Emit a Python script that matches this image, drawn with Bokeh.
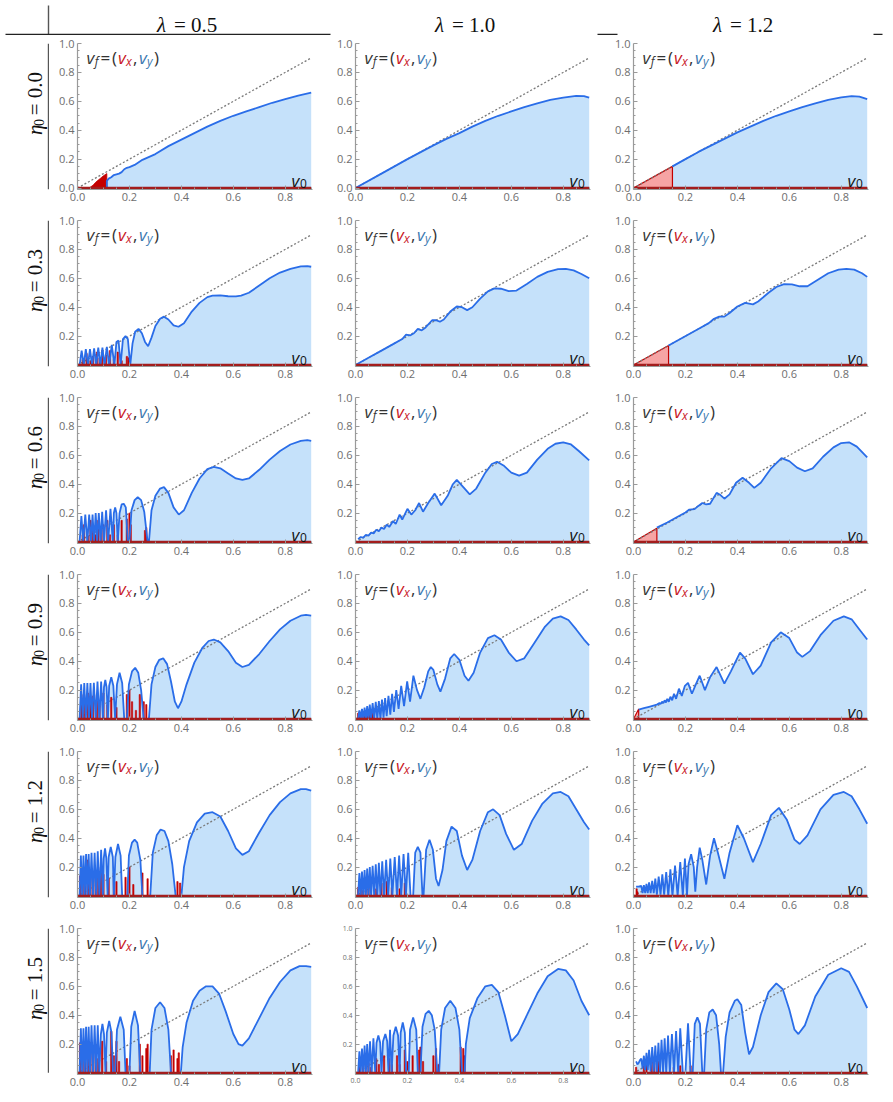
import math
from bokeh.plotting import figure
from bokeh.layouts import row, column
from bokeh.models import Range1d, FixedTicker, NumeralTickFormatter
from bokeh.core.properties import value
from bokeh.embed import file_html
from bokeh.resources import INLINE

# ---------------- data ----------------
lambda_labels = ["0.5", "1.0", "1.2"]
eta_labels = ["0.0", "0.3", "0.6", "0.9", "1.2", "1.5"]
v0_ticks = [0.0, 0.2, 0.4, 0.6, 0.8]
vf_ticks_first_row = [0.0, 0.2, 0.4, 0.6, 0.8, 1.0]
vf_ticks = [0.2, 0.4, 0.6, 0.8, 1.0]
minor_ticks = [0.05, 0.1, 0.15, 0.25, 0.3, 0.35, 0.45, 0.5, 0.55, 0.65, 0.7, 0.75, 0.85, 0.9, 0.95]
diag_v0 = [0.0, 0.9]
diag_vf = [0.0, 0.9]
base_v0 = [0.0, 0.9]
base_vx = [0.0, 0.0]

# v_y(v0) curves, (v0, v_y)
vy_eta00_lam05 = [(0.113, 0.0), (0.113, 0.05), (0.12, 0.065), (0.13, 0.075), (0.14, 0.09), (0.15, 0.095), (0.16, 0.10),
                  (0.17, 0.11), (0.18, 0.13), (0.19, 0.14), (0.20, 0.145), (0.22, 0.16), (0.25, 0.195), (0.30, 0.235),
                  (0.35, 0.29), (0.40, 0.335), (0.45, 0.38), (0.50, 0.425), (0.55, 0.465), (0.60, 0.50), (0.65, 0.53),
                  (0.70, 0.56), (0.75, 0.59), (0.80, 0.615), (0.85, 0.64), (0.90, 0.66)]
vy_eta00_lam10 = [(0.0, 0.0), (0.1, 0.1), (0.2, 0.2), (0.3, 0.295), (0.35, 0.34), (0.4, 0.38), (0.45, 0.425), (0.5, 0.465),
                  (0.55, 0.5), (0.6, 0.53), (0.65, 0.56), (0.7, 0.585), (0.75, 0.61), (0.8, 0.625), (0.85, 0.637),
                  (0.88, 0.636), (0.9, 0.625)]
vy_eta00_lam12 = [(0.15, 0.15), (0.2, 0.2), (0.25, 0.25), (0.3, 0.295), (0.35, 0.34), (0.4, 0.385), (0.45, 0.425),
                  (0.5, 0.465), (0.55, 0.5), (0.6, 0.53), (0.65, 0.56), (0.7, 0.585), (0.75, 0.61), (0.8, 0.627),
                  (0.84, 0.636), (0.87, 0.632), (0.9, 0.615)]

vy_eta03_lam05 = [(0.008, 0.0), (0.016, 0.10), (0.024, 0.0), (0.032, 0.11), (0.040, 0.0), (0.048, 0.11), (0.056, 0.0),
                  (0.064, 0.115), (0.072, 0.0), (0.080, 0.12), (0.088, 0.0), (0.096, 0.12), (0.104, 0.0), (0.113, 0.125),
                  (0.122, 0.0), (0.132, 0.14), (0.142, 0.0), (0.150, 0.16), (0.158, 0.17), (0.166, 0.0), (0.175, 0.18),
                  (0.185, 0.20), (0.194, 0.18), (0.203, 0.0), (0.212, 0.15), (0.222, 0.23), (0.235, 0.25), (0.248, 0.22),
                  (0.260, 0.16), (0.272, 0.13), (0.285, 0.19), (0.300, 0.27), (0.318, 0.32), (0.333, 0.335),
                  (0.350, 0.315), (0.370, 0.275), (0.389, 0.265), (0.410, 0.29), (0.440, 0.37), (0.470, 0.43),
                  (0.500, 0.47), (0.520, 0.48), (0.550, 0.482), (0.580, 0.476), (0.610, 0.475), (0.630, 0.48),
                  (0.660, 0.50), (0.700, 0.55), (0.740, 0.60), (0.780, 0.64), (0.820, 0.665), (0.860, 0.683),
                  (0.885, 0.685), (0.900, 0.68)]
vy_eta03_lam10 = [(0.0, 0.0), (0.05, 0.05), (0.10, 0.10), (0.15, 0.15), (0.18, 0.18), (0.195, 0.21), (0.21, 0.205),
                  (0.225, 0.22), (0.24, 0.25), (0.255, 0.24), (0.27, 0.26), (0.295, 0.31), (0.31, 0.31), (0.325, 0.30),
                  (0.34, 0.315), (0.365, 0.37), (0.39, 0.405), (0.41, 0.40), (0.43, 0.38), (0.45, 0.40), (0.48, 0.46),
                  (0.51, 0.51), (0.535, 0.53), (0.56, 0.528), (0.59, 0.512), (0.62, 0.515), (0.66, 0.56), (0.70, 0.61),
                  (0.74, 0.645), (0.78, 0.663), (0.81, 0.665), (0.84, 0.655), (0.87, 0.63), (0.90, 0.60)]
vy_eta03_lam12 = [(0.135, 0.135), (0.18, 0.18), (0.22, 0.22), (0.26, 0.26), (0.29, 0.29), (0.31, 0.32), (0.33, 0.335),
                  (0.35, 0.335), (0.37, 0.36), (0.40, 0.405), (0.43, 0.43), (0.445, 0.425), (0.46, 0.42), (0.48, 0.44),
                  (0.52, 0.50), (0.55, 0.54), (0.58, 0.56), (0.61, 0.558), (0.64, 0.545), (0.67, 0.545), (0.71, 0.59),
                  (0.75, 0.635), (0.79, 0.66), (0.82, 0.665), (0.85, 0.66), (0.88, 0.635), (0.90, 0.61)]

vy_eta06_lam05 = [(0.008, 0.0), (0.015, 0.18), (0.022, 0.0), (0.030, 0.19), (0.038, 0.0), (0.045, 0.19), (0.052, 0.0),
                  (0.058, 0.19), (0.064, 0.0), (0.070, 0.20), (0.076, 0.0), (0.082, 0.20), (0.089, 0.0), (0.095, 0.21),
                  (0.102, 0.0), (0.110, 0.22), (0.118, 0.0), (0.127, 0.23), (0.136, 0.0), (0.140, 0.20), (0.145, 0.24),
                  (0.150, 0.20), (0.155, 0.0), (0.162, 0.20), (0.170, 0.26), (0.178, 0.265), (0.186, 0.24), (0.194, 0.0),
                  (0.200, 0.0), (0.208, 0.22), (0.220, 0.29), (0.232, 0.31), (0.245, 0.29), (0.257, 0.21), (0.270, 0.0),
                  (0.275, 0.0), (0.285, 0.22), (0.300, 0.32), (0.318, 0.37), (0.333, 0.38), (0.350, 0.34),
                  (0.370, 0.24), (0.390, 0.19), (0.410, 0.22), (0.440, 0.34), (0.470, 0.44), (0.500, 0.505),
                  (0.525, 0.52), (0.550, 0.51), (0.580, 0.475), (0.610, 0.44), (0.635, 0.43), (0.660, 0.44),
                  (0.700, 0.50), (0.740, 0.57), (0.780, 0.63), (0.820, 0.675), (0.860, 0.70), (0.885, 0.705),
                  (0.900, 0.70)]
vy_eta06_lam10 = [(0.01, 0.02), (0.02, 0.035), (0.03, 0.03), (0.04, 0.05), (0.05, 0.045), (0.06, 0.065), (0.07, 0.06),
                  (0.08, 0.085), (0.09, 0.075), (0.10, 0.10), (0.11, 0.09), (0.12, 0.12), (0.13, 0.105), (0.145, 0.145),
                  (0.155, 0.125), (0.17, 0.19), (0.18, 0.155), (0.20, 0.23), (0.215, 0.19), (0.23, 0.22), (0.245, 0.27),
                  (0.26, 0.21), (0.28, 0.27), (0.305, 0.335), (0.33, 0.255), (0.355, 0.32), (0.375, 0.40), (0.39, 0.43),
                  (0.41, 0.39), (0.44, 0.33), (0.465, 0.37), (0.50, 0.48), (0.525, 0.54), (0.545, 0.555), (0.57, 0.53),
                  (0.60, 0.48), (0.63, 0.46), (0.66, 0.48), (0.70, 0.57), (0.74, 0.645), (0.77, 0.68), (0.80, 0.69),
                  (0.83, 0.675), (0.86, 0.63), (0.90, 0.565)]
vy_eta06_lam12 = [(0.09, 0.10), (0.13, 0.135), (0.17, 0.175), (0.2, 0.205), (0.215, 0.225), (0.235, 0.228), (0.25, 0.25),
                  (0.265, 0.27), (0.28, 0.26), (0.295, 0.265), (0.32, 0.34), (0.335, 0.325), (0.35, 0.30), (0.37, 0.33),
                  (0.395, 0.41), (0.42, 0.445), (0.445, 0.41), (0.465, 0.375), (0.49, 0.41), (0.53, 0.51), (0.57, 0.58),
                  (0.60, 0.56), (0.63, 0.515), (0.66, 0.49), (0.69, 0.51), (0.73, 0.59), (0.77, 0.655), (0.80, 0.685),
                  (0.83, 0.69), (0.86, 0.66), (0.90, 0.585)]

vy_eta09_lam05 = [(0.008, 0.0), (0.014, 0.24), (0.020, 0.0), (0.026, 0.25), (0.032, 0.0), (0.038, 0.25), (0.044, 0.0),
                  (0.050, 0.25), (0.056, 0.0), (0.063, 0.25), (0.070, 0.0), (0.077, 0.26), (0.084, 0.0), (0.091, 0.26),
                  (0.098, 0.0), (0.102, 0.22), (0.107, 0.27), (0.112, 0.22), (0.117, 0.0), (0.122, 0.23), (0.130, 0.29),
                  (0.138, 0.23), (0.145, 0.0), (0.152, 0.24), (0.162, 0.32), (0.172, 0.25), (0.180, 0.0), (0.190, 0.0),
                  (0.198, 0.24), (0.210, 0.33), (0.222, 0.355), (0.234, 0.32), (0.245, 0.20), (0.255, 0.0),
                  (0.275, 0.0), (0.285, 0.24), (0.300, 0.36), (0.315, 0.41), (0.330, 0.42), (0.345, 0.38),
                  (0.360, 0.26), (0.375, 0.12), (0.387, 0.075), (0.400, 0.12), (0.420, 0.24), (0.450, 0.39),
                  (0.480, 0.49), (0.505, 0.54), (0.525, 0.55), (0.550, 0.53), (0.580, 0.47), (0.610, 0.39),
                  (0.635, 0.36), (0.660, 0.375), (0.700, 0.45), (0.740, 0.54), (0.780, 0.62), (0.820, 0.68),
                  (0.860, 0.715), (0.880, 0.72), (0.900, 0.715)]
vy_eta09_lam10 = [(0.01, 0.0), (0.015, 0.06), (0.02, 0.0), (0.025, 0.07), (0.03, 0.0), (0.035, 0.08), (0.04, 0.0),
                  (0.045, 0.09), (0.05, 0.0), (0.055, 0.10), (0.06, 0.0), (0.066, 0.11), (0.072, 0.0), (0.078, 0.12),
                  (0.084, 0.0), (0.09, 0.125), (0.096, 0.0), (0.102, 0.135), (0.108, 0.01), (0.114, 0.145),
                  (0.12, 0.02), (0.127, 0.16), (0.134, 0.03), (0.141, 0.175), (0.148, 0.05), (0.157, 0.20),
                  (0.166, 0.07), (0.176, 0.23), (0.187, 0.09), (0.199, 0.26), (0.21, 0.12), (0.223, 0.30),
                  (0.237, 0.20), (0.25, 0.14), (0.265, 0.22), (0.28, 0.33), (0.29, 0.36), (0.30, 0.34), (0.315, 0.24),
                  (0.327, 0.19), (0.345, 0.28), (0.365, 0.42), (0.38, 0.45), (0.40, 0.41), (0.42, 0.30),
                  (0.435, 0.265), (0.455, 0.32), (0.48, 0.46), (0.51, 0.56), (0.535, 0.58), (0.56, 0.55), (0.59, 0.46),
                  (0.62, 0.40), (0.65, 0.42), (0.69, 0.53), (0.73, 0.64), (0.76, 0.695), (0.79, 0.71), (0.82, 0.685),
                  (0.85, 0.62), (0.88, 0.55), (0.90, 0.51)]
vy_eta09_lam12 = [(0.02, 0.065), (0.04, 0.075), (0.06, 0.085), (0.08, 0.095), (0.09, 0.10), (0.10, 0.11), (0.105, 0.105),
                  (0.11, 0.12), (0.115, 0.11), (0.12, 0.13), (0.125, 0.115), (0.13, 0.14), (0.136, 0.12),
                  (0.142, 0.155), (0.149, 0.13), (0.156, 0.175), (0.164, 0.14), (0.175, 0.21), (0.186, 0.16),
                  (0.198, 0.23), (0.21, 0.25), (0.225, 0.175), (0.24, 0.24), (0.255, 0.30), (0.275, 0.20),
                  (0.295, 0.29), (0.32, 0.36), (0.35, 0.245), (0.375, 0.33), (0.41, 0.46), (0.43, 0.42), (0.46, 0.31),
                  (0.49, 0.37), (0.53, 0.53), (0.567, 0.60), (0.60, 0.56), (0.63, 0.46), (0.65, 0.43), (0.68, 0.47),
                  (0.72, 0.58), (0.77, 0.68), (0.81, 0.71), (0.84, 0.69), (0.87, 0.62), (0.90, 0.55)]

vy_eta12_lam05 = [(0.008, 0.0), (0.013, 0.28), (0.018, 0.0), (0.023, 0.28), (0.028, 0.0), (0.033, 0.29), (0.038, 0.0),
                  (0.043, 0.29), (0.048, 0.0), (0.054, 0.30), (0.060, 0.0), (0.066, 0.30), (0.072, 0.0), (0.078, 0.31),
                  (0.084, 0.0), (0.091, 0.32), (0.098, 0.0), (0.101, 0.26), (0.106, 0.33), (0.111, 0.26), (0.116, 0.0),
                  (0.120, 0.27), (0.128, 0.34), (0.136, 0.27), (0.140, 0.0), (0.146, 0.27), (0.156, 0.36),
                  (0.166, 0.28), (0.172, 0.0), (0.192, 0.0), (0.198, 0.28), (0.210, 0.37), (0.220, 0.39),
                  (0.230, 0.37), (0.242, 0.25), (0.250, 0.0), (0.280, 0.0), (0.290, 0.30), (0.305, 0.42),
                  (0.320, 0.46), (0.335, 0.45), (0.350, 0.38), (0.365, 0.22), (0.378, 0.0), (0.400, 0.0),
                  (0.410, 0.20), (0.430, 0.38), (0.460, 0.51), (0.490, 0.57), (0.520, 0.58), (0.550, 0.55),
                  (0.580, 0.45), (0.610, 0.33), (0.635, 0.285), (0.660, 0.31), (0.700, 0.44), (0.740, 0.56),
                  (0.780, 0.65), (0.820, 0.71), (0.860, 0.74), (0.880, 0.74), (0.900, 0.73)]
vy_eta12_lam10 = [(0.01, 0.0), (0.015, 0.16), (0.02, 0.0), (0.025, 0.17), (0.03, 0.0), (0.035, 0.18), (0.04, 0.0),
                  (0.045, 0.19), (0.05, 0.0), (0.055, 0.20), (0.06, 0.0), (0.066, 0.21), (0.072, 0.0), (0.078, 0.22),
                  (0.084, 0.0), (0.09, 0.23), (0.096, 0.0), (0.103, 0.24), (0.11, 0.0), (0.118, 0.25), (0.126, 0.0),
                  (0.134, 0.26), (0.142, 0.0), (0.151, 0.27), (0.16, 0.0), (0.168, 0.28), (0.176, 0.0), (0.185, 0.29),
                  (0.194, 0.0), (0.203, 0.30), (0.212, 0.0), (0.222, 0.0), (0.23, 0.30), (0.24, 0.34), (0.25, 0.30),
                  (0.258, 0.0), (0.262, 0.0), (0.272, 0.32), (0.285, 0.39), (0.298, 0.32), (0.31, 0.12), (0.32, 0.07),
                  (0.335, 0.18), (0.35, 0.38), (0.37, 0.48), (0.39, 0.45), (0.41, 0.28), (0.43, 0.18), (0.45, 0.25),
                  (0.48, 0.45), (0.51, 0.58), (0.53, 0.60), (0.555, 0.56), (0.58, 0.43), (0.61, 0.32), (0.64, 0.36),
                  (0.68, 0.52), (0.72, 0.64), (0.76, 0.71), (0.79, 0.72), (0.82, 0.69), (0.85, 0.60), (0.88, 0.51),
                  (0.90, 0.46)]
vy_eta12_lam12 = [(0.01, 0.065), (0.02, 0.065), (0.03, 0.07), (0.035, 0.02), (0.04, 0.075), (0.045, 0.02), (0.05, 0.085),
                  (0.055, 0.02), (0.06, 0.095), (0.066, 0.02), (0.072, 0.105), (0.078, 0.02), (0.084, 0.12),
                  (0.09, 0.01), (0.097, 0.135), (0.104, 0.01), (0.111, 0.15), (0.118, 0.01), (0.126, 0.165),
                  (0.134, 0.0), (0.142, 0.185), (0.15, 0.0), (0.16, 0.21), (0.17, 0.0), (0.18, 0.235), (0.19, 0.0),
                  (0.198, 0.26), (0.206, 0.0), (0.212, 0.22), (0.222, 0.29), (0.232, 0.2), (0.238, 0.03),
                  (0.245, 0.2), (0.255, 0.335), (0.265, 0.25), (0.28, 0.08), (0.295, 0.28), (0.31, 0.40),
                  (0.325, 0.3), (0.35, 0.12), (0.37, 0.3), (0.40, 0.49), (0.425, 0.40), (0.46, 0.235), (0.49, 0.36),
                  (0.53, 0.56), (0.56, 0.61), (0.59, 0.53), (0.62, 0.39), (0.64, 0.36), (0.67, 0.42), (0.72, 0.60),
                  (0.77, 0.70), (0.81, 0.72), (0.84, 0.69), (0.87, 0.60), (0.90, 0.50)]

vy_eta15_lam05 = [(0.008, 0.0), (0.013, 0.31), (0.018, 0.0), (0.023, 0.31), (0.028, 0.0), (0.033, 0.32), (0.038, 0.0),
                  (0.043, 0.32), (0.048, 0.0), (0.054, 0.33), (0.060, 0.0), (0.066, 0.33), (0.072, 0.0), (0.078, 0.33),
                  (0.084, 0.0), (0.090, 0.27), (0.096, 0.34), (0.102, 0.27), (0.108, 0.0), (0.113, 0.28),
                  (0.122, 0.36), (0.131, 0.28), (0.137, 0.0), (0.145, 0.0), (0.152, 0.30), (0.165, 0.39),
                  (0.178, 0.30), (0.185, 0.0), (0.200, 0.0), (0.207, 0.32), (0.220, 0.43), (0.233, 0.33),
                  (0.242, 0.0), (0.278, 0.0), (0.285, 0.30), (0.300, 0.45), (0.318, 0.49), (0.335, 0.45),
                  (0.350, 0.30), (0.360, 0.0), (0.398, 0.0), (0.405, 0.18), (0.420, 0.35), (0.445, 0.50),
                  (0.470, 0.57), (0.495, 0.60), (0.520, 0.60), (0.545, 0.55), (0.570, 0.43), (0.600, 0.27),
                  (0.620, 0.20), (0.635, 0.19), (0.660, 0.24), (0.700, 0.38), (0.740, 0.52), (0.780, 0.63),
                  (0.820, 0.71), (0.855, 0.74), (0.880, 0.74), (0.900, 0.735)]
vy_eta15_lam10 = [(0.01, 0.0), (0.015, 0.15), (0.02, 0.0), (0.025, 0.17), (0.03, 0.0), (0.035, 0.19), (0.04, 0.0),
                  (0.045, 0.20), (0.05, 0.0), (0.056, 0.22), (0.062, 0.0), (0.069, 0.24), (0.076, 0.0), (0.081, 0.21),
                  (0.088, 0.26), (0.095, 0.21), (0.1, 0.0), (0.106, 0.22), (0.115, 0.27), (0.122, 0.22), (0.127, 0.0),
                  (0.133, 0.30), (0.139, 0.0), (0.146, 0.26), (0.155, 0.32), (0.164, 0.26), (0.17, 0.0), (0.174, 0.28),
                  (0.182, 0.35), (0.19, 0.28), (0.195, 0.0), (0.205, 0.0), (0.21, 0.30), (0.222, 0.385), (0.234, 0.30),
                  (0.24, 0.0), (0.25, 0.0), (0.258, 0.32), (0.27, 0.41), (0.282, 0.43), (0.294, 0.40), (0.305, 0.30),
                  (0.315, 0.0), (0.322, 0.0), (0.33, 0.30), (0.345, 0.45), (0.365, 0.50), (0.385, 0.45), (0.40, 0.30),
                  (0.41, 0.0), (0.42, 0.0), (0.425, 0.20), (0.44, 0.38), (0.47, 0.52), (0.50, 0.60), (0.525, 0.61),
                  (0.55, 0.56), (0.575, 0.40), (0.60, 0.22), (0.625, 0.27), (0.66, 0.40), (0.70, 0.55), (0.74, 0.67),
                  (0.78, 0.72), (0.81, 0.71), (0.84, 0.64), (0.87, 0.50), (0.90, 0.40)]
vy_eta15_lam12 = [(0.01, 0.08), (0.015, 0.06), (0.02, 0.07), (0.025, 0.09), (0.03, 0.10), (0.035, 0.03), (0.04, 0.12),
                  (0.045, 0.02), (0.05, 0.14), (0.055, 0.02), (0.06, 0.16), (0.066, 0.01), (0.072, 0.18), (0.078, 0.01),
                  (0.084, 0.19), (0.09, 0.0), (0.096, 0.21), (0.102, 0.0), (0.108, 0.23), (0.114, 0.0), (0.12, 0.24),
                  (0.126, 0.0), (0.133, 0.26), (0.14, 0.0), (0.148, 0.27), (0.156, 0.0), (0.164, 0.29), (0.172, 0.0),
                  (0.18, 0.31), (0.19, 0.0), (0.2, 0.0), (0.21, 0.345), (0.22, 0.0), (0.228, 0.0), (0.236, 0.34),
                  (0.246, 0.385), (0.256, 0.34), (0.265, 0.0), (0.272, 0.0), (0.28, 0.30), (0.292, 0.42),
                  (0.305, 0.44), (0.318, 0.40), (0.33, 0.2), (0.337, 0.0), (0.345, 0.0), (0.355, 0.25), (0.37, 0.42),
                  (0.39, 0.50), (0.40, 0.51), (0.415, 0.47), (0.43, 0.28), (0.445, 0.13), (0.46, 0.18), (0.49, 0.40),
                  (0.52, 0.56), (0.55, 0.62), (0.575, 0.58), (0.60, 0.44), (0.62, 0.30), (0.635, 0.27), (0.66, 0.33),
                  (0.70, 0.53), (0.75, 0.68), (0.80, 0.725), (0.83, 0.70), (0.86, 0.60), (0.90, 0.45)]

# v_x(v0): spikes (v0, v_x)
vx_eta03_lam05 = [(0.02, 0.04), (0.035, 0.08), (0.05, 0.03), (0.06, 0.06), (0.075, 0.09), (0.085, 0.05), (0.095, 0.10),
                  (0.11, 0.07), (0.125, 0.10), (0.14, 0.04), (0.155, 0.09), (0.17, 0.03), (0.19, 0.06), (0.197, 0.05)]
vx_eta06_lam05 = [(0.02, 0.05), (0.025, 0.12), (0.04, 0.04), (0.05, 0.15), (0.06, 0.10), (0.07, 0.05), (0.08, 0.15),
                  (0.09, 0.07), (0.1, 0.12), (0.115, 0.15), (0.125, 0.05), (0.14, 0.12), (0.155, 0.05), (0.17, 0.15),
                  (0.19, 0.16), (0.2, 0.2), (0.205, 0.12), (0.26, 0.08), (0.265, 0.1)]
vx_eta09_lam05 = [(0.015, 0.17), (0.025, 0.17), (0.04, 0.18), (0.05, 0.10), (0.06, 0.16), (0.075, 0.17), (0.085, 0.12),
                  (0.10, 0.18), (0.115, 0.10), (0.13, 0.15), (0.15, 0.08), (0.19, 0.17), (0.20, 0.20), (0.21, 0.12),
                  (0.225, 0.06), (0.24, 0.17), (0.255, 0.12), (0.265, 0.10)]
vx_eta09_lam10 = [(0.01, 0.04), (0.015, 0.05), (0.02, 0.03), (0.03, 0.05), (0.035, 0.02), (0.045, 0.05), (0.055, 0.05),
                  (0.065, 0.04), (0.07, 0.05)]
vx_eta12_lam05 = [(0.01, 0.14), (0.02, 0.13), (0.03, 0.14), (0.04, 0.25), (0.05, 0.15), (0.06, 0.14), (0.07, 0.18),
                  (0.08, 0.13), (0.09, 0.20), (0.10, 0.15), (0.12, 0.12), (0.14, 0.16), (0.15, 0.10), (0.185, 0.13),
                  (0.20, 0.20), (0.215, 0.08), (0.25, 0.16), (0.27, 0.12), (0.385, 0.10), (0.395, 0.09)]
vx_eta12_lam10 = [(0.01, 0.06), (0.02, 0.10), (0.03, 0.04), (0.05, 0.08), (0.08, 0.05), (0.10, 0.09), (0.12, 0.10),
                  (0.14, 0.06), (0.16, 0.08), (0.17, 0.05), (0.19, 0.09)]
vx_eta12_lam12 = [(0.012, 0.05), (0.015, 0.03)]
vx_eta15_lam05 = [(0.01, 0.21), (0.02, 0.14), (0.03, 0.20), (0.04, 0.10), (0.05, 0.21), (0.06, 0.12), (0.07, 0.20),
                  (0.08, 0.10), (0.095, 0.22), (0.11, 0.08), (0.13, 0.29), (0.14, 0.12), (0.15, 0.22), (0.16, 0.08),
                  (0.19, 0.10), (0.20, 0.05), (0.24, 0.20), (0.25, 0.12), (0.265, 0.17), (0.27, 0.20), (0.36, 0.12),
                  (0.37, 0.16), (0.385, 0.10), (0.39, 0.14)]
vx_eta15_lam10 = [(0.015, 0.05), (0.03, 0.08), (0.05, 0.07), (0.06, 0.04), (0.08, 0.10), (0.09, 0.06), (0.11, 0.12),
                  (0.13, 0.10), (0.14, 0.06), (0.16, 0.12), (0.17, 0.06), (0.19, 0.16), (0.20, 0.08), (0.22, 0.12),
                  (0.245, 0.16), (0.25, 0.18), (0.26, 0.08), (0.30, 0.12), (0.31, 0.17), (0.32, 0.06), (0.405, 0.18),
                  (0.415, 0.17), (0.42, 0.12)]
vx_eta15_lam12 = [(0.01, 0.04), (0.04, 0.05), (0.05, 0.06), (0.07, 0.08), (0.08, 0.07), (0.095, 0.08), (0.10, 0.08),
                  (0.155, 0.04), (0.18, 0.05), (0.22, 0.05)]

# v_x(v0): filled regions (v0, v_x)
vx_fill_eta00_lam05 = [(0.045, 0.0), (0.06, 0.02), (0.07, 0.04), (0.08, 0.055), (0.09, 0.07), (0.10, 0.085),
                       (0.113, 0.10), (0.113, 0.0)]
vx_fill_eta00_lam12 = [(0.0, 0.0), (0.15, 0.15), (0.15, 0.0)]
vx_fill_eta03_lam12 = [(0.0, 0.0), (0.135, 0.135), (0.135, 0.0)]
vx_fill_eta06_lam12 = [(0.0, 0.0), (0.09, 0.095), (0.09, 0.0)]
vx_fill_eta09_lam12 = [(0.0, 0.0), (0.02, 0.07), (0.02, 0.0)]

vy_all = [[vy_eta00_lam05, vy_eta00_lam10, vy_eta00_lam12],
          [vy_eta03_lam05, vy_eta03_lam10, vy_eta03_lam12],
          [vy_eta06_lam05, vy_eta06_lam10, vy_eta06_lam12],
          [vy_eta09_lam05, vy_eta09_lam10, vy_eta09_lam12],
          [vy_eta12_lam05, vy_eta12_lam10, vy_eta12_lam12],
          [vy_eta15_lam05, vy_eta15_lam10, vy_eta15_lam12]]
vx_spikes = {(1, 0): vx_eta03_lam05, (2, 0): vx_eta06_lam05, (3, 0): vx_eta09_lam05, (3, 1): vx_eta09_lam10,
             (4, 0): vx_eta12_lam05, (4, 1): vx_eta12_lam10, (4, 2): vx_eta12_lam12,
             (5, 0): vx_eta15_lam05, (5, 1): vx_eta15_lam10, (5, 2): vx_eta15_lam12}
vx_dark_fill = {(0, 0): vx_fill_eta00_lam05}
vx_pink_fill = {(0, 2): vx_fill_eta00_lam12, (1, 2): vx_fill_eta03_lam12, (2, 2): vx_fill_eta06_lam12,
                (3, 2): vx_fill_eta09_lam12}

# ---------------- styling / layout ----------------
W, H = 278, 177
FL, FR, FT, FB = 28, 15, 8, 23
X_END, Y_START, Y_END = 0.905, -0.01, 1.0
PX = X_END / (W - FL - FR)
PY = (Y_END - Y_START) / (H - FT - FB)
LEFT_W = 49
HEAD_H = 35

BLUE = "#2a6de8"
FILL = "#c5e1fa"
RED = "#c40000"
BASE_RED = "#a31d1d"
PINK = "#f6a4a4"
DARK = "#333333"
VX_COL = "#c8161d"
VY_COL = "#3a78b0"
TICK_COL = "#6e6e6e"
AXIS_COL = "#9a9a9a"
SANS = "Open Sans"
SERIF = "Liberation Serif"


def make_panel(r, c):
    p = figure(width=W, height=H, x_range=Range1d(0, X_END), y_range=Range1d(Y_START, Y_END),
               output_backend="svg", toolbar_location=None,
               min_border_left=FL, min_border_right=FR, min_border_top=FT, min_border_bottom=FB)
    p.outline_line_color = None
    p.grid.visible = False
    p.background_fill_color = "white"
    p.border_fill_color = "white"

    small = (r == 5 and c == 1)
    for ax in (p.xaxis[0], p.yaxis[0]):
        ax.axis_line_color = AXIS_COL
        ax.axis_line_width = 1.2
        ax.major_tick_line_color = AXIS_COL
        ax.minor_tick_line_color = AXIS_COL
        ax.major_tick_in = 4
        ax.major_tick_out = 0
        ax.minor_tick_in = 2
        ax.minor_tick_out = 0
        ax.major_label_text_color = TICK_COL
        ax.major_label_text_font = SANS
        ax.major_label_text_font_size = "7px" if small else "11px"
        ax.major_label_standoff = 3
        ax.formatter = NumeralTickFormatter(format="0.0")
    p.xaxis.ticker = FixedTicker(ticks=v0_ticks, minor_ticks=minor_ticks)
    p.yaxis.ticker = FixedTicker(ticks=vf_ticks_first_row if r == 0 else vf_ticks,
                                 minor_ticks=minor_ticks)

    vy = vy_all[r][c]
    xs = [pt[0] for pt in vy]
    ys = [pt[1] for pt in vy]
    p.varea(x=xs, y1=0, y2=ys, fill_color=FILL)

    if (r, c) in vx_pink_fill:
        pts = vx_pink_fill[(r, c)]
        p.patch([q[0] for q in pts], [q[1] for q in pts], fill_color=PINK, line_color=RED, line_width=1.2)
    if (r, c) in vx_dark_fill:
        pts = vx_dark_fill[(r, c)]
        p.patch([q[0] for q in pts], [q[1] for q in pts], fill_color=RED, line_color=RED, line_width=0.8)

    p.line(diag_v0, diag_vf, line_color="#7a7a7a", line_dash="2 2", line_width=1.3)

    if (r, c) in vx_spikes:
        sp = vx_spikes[(r, c)]
        p.vbar(x=[q[0] for q in sp], top=[q[1] for q in sp], bottom=0, width=0.005,
               fill_color=RED, line_color=RED, line_width=0.6)

    p.line(xs, ys, line_color=BLUE, line_width=1.8)
    p.line(base_v0, base_vx, line_color=BASE_RED, line_width=2.4)

    # label v_f = (v_x, v_y)
    yb = Y_END - 14 * PY
    ys_ = Y_END - 18 * PY
    p.text(x=[9.0 * PX, 40.5 * PX, 61.5 * PX], y=[yb] * 3, text=["v", "v", "v"],
           text_color=[DARK, VX_COL, VY_COL], text_font=value(SANS), text_font_style="italic",
           text_font_size="17px", text_baseline="alphabetic", text_align="left")
    p.text(x=[17.2 * PX, 48.6 * PX, 69.6 * PX], y=[ys_] * 3, text=["f", "x", "y"],
           text_color=[DARK, VX_COL, VY_COL], text_font=value(SANS), text_font_style="italic",
           text_font_size="12px", text_baseline="alphabetic", text_align="left")
    p.text(x=[23.0 * PX, 34.5 * PX, 55.5 * PX, 76.5 * PX], y=[yb] * 4, text=["=", "(", ",", ")"],
           text_color=DARK, text_font=value(SANS),
           text_font_size="17px", text_baseline="alphabetic", text_align="left")
    # v0 label
    p.text(x=[214.0 * PX], y=[8.0 * PY], text=["v"], text_color="#111111", text_font=value(SANS),
           text_font_style="italic", text_font_size="17px", text_baseline="alphabetic", text_align="left")
    p.text(x=[222.5 * PX], y=[4.5 * PY], text=["0"], text_color="#111111", text_font=value(SANS),
           text_font_size="12px", text_baseline="alphabetic", text_align="left")
    return p


def bare(width, height):
    f = figure(width=width, height=height, x_range=Range1d(0, width), y_range=Range1d(0, height),
               output_backend="svg", toolbar_location=None, x_axis_type=None, y_axis_type=None,
               min_border=0)
    f.min_border_left = f.min_border_right = f.min_border_top = f.min_border_bottom = 0
    f.outline_line_color = None
    f.grid.visible = False
    f.background_fill_color = "white"
    f.border_fill_color = "white"
    return f


# header
header = bare(LEFT_W + 3 * W, HEAD_H)
header.line([LEFT_W - 1, LEFT_W - 1], [0, HEAD_H - 5], line_color="#555555", line_width=1.4)
header.line([5, LEFT_W + W + 3], [1, 1], line_color="#222222", line_width=1.4)
header.line([LEFT_W + 2 * W - 8, LEFT_W + 2 * W + 12], [1, 1], line_color="#222222", line_width=1.4)
header.line([LEFT_W + 3 * W - 10, LEFT_W + 3 * W - 1], [1, 1], line_color="#222222", line_width=1.4)
for c, lam in enumerate(lambda_labels):
    cx = LEFT_W + c * W + FL + (W - FL - FR) / 2 - 4
    header.text(x=[cx - 34], y=[11], text=["λ"], text_font=value(SERIF), text_font_style="italic",
                text_font_size="21px", text_color="#111111", text_baseline="alphabetic", text_align="left")
    header.text(x=[cx - 17], y=[11], text=["= " + lam], text_font=value(SERIF),
                text_font_size="21px", text_color="#111111", text_baseline="alphabetic", text_align="left")

rows = [header]
for r, eta in enumerate(eta_labels):
    lab = bare(LEFT_W, H)
    lab.line([LEFT_W - 1, LEFT_W - 1], [2 if r == 5 else 0, H], line_color="#555555", line_width=1.4)
    cy = FB + (H - FT - FB) / 2 + 6
    y0 = cy - 36
    lab.text(x=[34], y=[y0], text=["η"], angle=math.pi / 2, text_font=value(SERIF), text_font_style="italic",
             text_font_size="21px", text_color="#111111", text_baseline="alphabetic", text_align="left")
    lab.text(x=[38], y=[y0 + 11], text=["0"], angle=math.pi / 2, text_font=value(SERIF),
             text_font_size="14px", text_color="#111111", text_baseline="alphabetic", text_align="left")
    lab.text(x=[34], y=[y0 + 24], text=["= " + eta], angle=math.pi / 2, text_font=value(SERIF),
             text_font_size="21px", text_color="#111111", text_baseline="alphabetic", text_align="left")
    rows.append(row(lab, make_panel(r, 0), make_panel(r, 1), make_panel(r, 2), spacing=0))

layout = column(*rows, spacing=0)
open("out.html", "w").write(file_html(layout, INLINE))
